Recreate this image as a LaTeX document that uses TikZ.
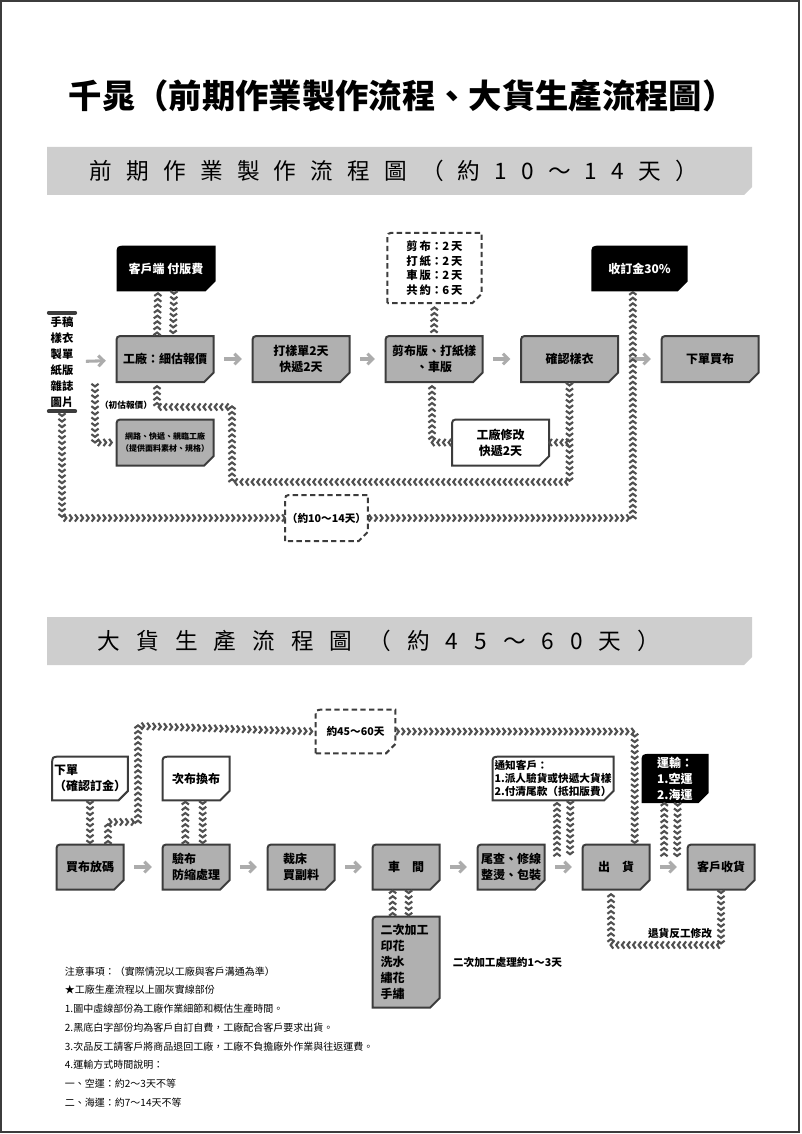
\documentclass[tikz,border=0pt]{standalone}
\usepackage{fontspec}
\setmainfont{Noto Sans CJK TC}
\usetikzlibrary{positioning,calc,decorations.markings,backgrounds,arrows.meta}

\definecolor{boxgray}{RGB}{176,176,176}
\definecolor{edgegray}{RGB}{60,60,60}
\definecolor{chevgray}{RGB}{80,80,80}
\definecolor{bannergray}{RGB}{206,206,206}

\newcommand\gap{\hspace{10.6pt}}
\newcommand\gapb{\hspace{12pt}}

\tikzset{every picture/.style={line width=0.75pt}}
\tikzset{
  card/.style={minimum width=72pt, minimum height=33.75pt, inner sep=1pt, align=center, font=\fontsize{9}{12}\selectfont\bfseries},
  smallcard/.style={card, minimum width=49.5pt, minimum height=33pt},
  garrow/.style={draw=gray!65, line width=2.3pt, -{Straight Barb[length=4pt,width=8pt]}, shorten <=8pt, shorten >=8pt},
  chev/.style={postaction={decorate, decoration={markings, mark=between positions 2pt and 1 step 4.2pt with {\draw[chevgray, line width=1.6pt, line cap=butt] (-1.4pt,2.7pt) -- (0.6pt,0pt) -- (-1.4pt,-2.7pt);}}}},
  note/.style={anchor=west, font=\fontsize{7.5}{9}\selectfont}
}
% card outline: round top-left corner, cut bottom-right corner
\newcommand\cardshape[2]{%
  \draw[#1] (#2.south west) -- ([yshift=6pt]#2.north west) .. controls (#2.north west) .. ([xshift=6pt]#2.north west) -- (#2.north east) -- ([yshift=-7pt]#2.south east) -- ([xshift=-7pt]#2.south east) -- cycle;}

\begin{document}
\begin{tikzpicture}[x=0.75pt,y=0.75pt,yscale=-1,xscale=1]
\useasboundingbox (0,0) rectangle (801,1134);
\draw[edgegray, line width=1pt] (1,1) rectangle (799,1132);

% Title and banners
\node[font=\fontsize{25}{30}\selectfont\bfseries] (title) at (402,96) {千晁（前期作業製作流程、大貨生產流程圖）};
\fill[bannergray] (47,147) -- (752,147) -- (752,187) -- (744,195) -- (47,195) -- cycle;
\node[anchor=west, font=\fontsize{17}{20}\selectfont] (ban1) at (85,171) {前\gap 期\gap 作\gap 業\gap 製\gap 作\gap 流\gap 程\gap 圖\gap （\gap 約\gap 1\gap 0\gap ～\gap 1\gap 4\gap 天\gap ）};
\fill[bannergray] (47,617) -- (752,617) -- (752,657) -- (744,665) -- (47,665) -- cycle;
\node[anchor=west, font=\fontsize{17}{20}\selectfont] (ban2) at (93,641) {大\gapb 貨\gapb 生\gapb 產\gapb 流\gapb 程\gapb 圖\gapb （\gapb 約\gapb 4\gapb 5\gapb ～\gapb 6\gapb 0\gapb 天\gapb ）};

% Sample stage
\node[font=\fontsize{8.5}{12}\selectfont\bfseries, align=center, minimum height=75pt, inner sep=1pt] (src) at (62,362) {手稿\\樣衣\\製單\\紙版\\雜誌\\圖片};
\node[card] (quote) at (165,359) {工廠：細估報價};
\node[card] (sample) at (301,359) {打樣單2天\\快遞2天};
\node[card] (cut) at (434,359) {剪布版、打紙樣\\、車版};
\node[card] (confirm) at (569.5,359) {確認樣衣};
\node[card] (order) at (710,359) {下單買布};
\node[card, text=white, minimum height=32pt] (pay) at (166,268.5) {客戶端 付版費};
\node[card, text=white, minimum height=32pt, minimum width=70pt] (deposit) at (639.5,268.5) {收訂金30\%};
\node[card, minimum width=70pt, minimum height=52pt, align=left, font=\fontsize{8.5}{11}\selectfont\bfseries] (days) at (434.5,268) {剪\,布：2\,天\\打\,紙：2\,天\\車\,版：2\,天\\共\,約：6\,天};
\node[card, font=\fontsize{6}{9}\selectfont\bfseries] (web) at (165,442.5) {網路、快遞、親臨工廠\\（提供面料素材、規格）};
\node[card] (fix) at (500.5,442.5) {工廠修改\\快遞2天};
\node[card, minimum width=57pt, font=\fontsize{8}{10}\selectfont\bfseries] (span1) at (326.5,518) {（約10～14天）};
\node[font=\fontsize{6.5}{8}\selectfont\bfseries] (est) at (126,405) {（初估報價）};
\coordinate (estTop) at (95,383);
\coordinate (lp1) at (232,482);
\coordinate (lp2) at (232,407);
\coordinate (bot) at (62,518);

% Bulk stage
\node[smallcard] (buy) at (90,867) {買布放碼};
\node[smallcard, align=left] (inspect) at (196,867) {驗布\\防縮處理};
\node[smallcard, align=left] (cutting) at (301,867) {裁床\\買副料};
\node[smallcard] (sew) at (406,867) {車\quad 間};
\node[smallcard] (finish) at (511,867) {尾查、修線\\整燙、包裝};
\node[smallcard] (ship) at (616,867) {出\quad 貨};
\node[smallcard] (recv) at (721,867) {客戶收貨};
\node[smallcard, minimum height=32pt, align=left] (order2) at (90,778.5) {下單\\（確認訂金）};
\node[smallcard, minimum height=32pt] (swap) at (196,778.5) {次布換布};
\node[smallcard, minimum height=67.5pt, align=left, text width=38pt] (sec) at (406,962) {二次加工\\印花\\洗水\\繡花\\手繡};
\node[smallcard, minimum width=90pt, minimum height=32pt, align=left, font=\fontsize{8}{10}\selectfont\bfseries] (inform) at (553,778.5) {通知客戶：\\1.派人驗貨或快遞大貨樣\\2.付清尾款（抵扣版費）};
\node[smallcard, minimum width=48pt, minimum height=32pt, text=white, align=left] (trans) at (675,778.5) {運輸：\\1.空運\\2.海運};
\node[smallcard, minimum width=59pt, minimum height=32pt, font=\fontsize{8}{10}\selectfont\bfseries] (span2) at (355.5,731.5) {約45～60天};
\node[font=\fontsize{8}{10}\selectfont\bfseries] (ret) at (680,933) {退貨反工修改};
\node[anchor=west, font=\fontsize{8}{10}\selectfont\bfseries] (secnote) at (448,962) {二次加工處理約1～3天};
\coordinate (b1) at (138,822);
\coordinate (b2) at (138,726);
\coordinate (rt) at (720,945);

% Notes
\node[note] (n0) at (60,972) {注意事項：（實際情況以工廠與客戶溝通為準）};
\node[note] (n1) at (60,990) {★工廠生產流程以上圖灰實線部份};
\node[note] (n2) at (60,1009) {1.圖中虛線部份為工廠作業細節和概估生產時間。};
\node[note] (n3) at (60,1028) {2.黑底白字部份均為客戶自訂自費，工廠配合客戶要求出貨。};
\node[note] (n4) at (60,1047) {3.次品反工請客戶將商品退回工廠，工廠不負擔廠外作業與往返運費。};
\node[note] (n5) at (60,1065) {4.運輸方式時間說明：};
\node[note] (n6) at (60,1084) {一、空運：約2～3天不等};
\node[note] (n7) at (60,1103) {二、海運：約7～14天不等};

% Card outlines behind the texts
\begin{scope}[on background layer]
\foreach \n in {quote,sample,cut,confirm,order,web,buy,inspect,cutting,sew,finish,ship,recv,sec}
  \cardshape{fill=boxgray, draw=edgegray, line width=1.5pt}{\n};
\foreach \n in {fix,order2,swap,inform}
  \cardshape{fill=white, draw=edgegray, line width=1.5pt}{\n};
\foreach \n in {pay,deposit,trans}
  \cardshape{fill=black, draw=black, line width=1.5pt}{\n};
\foreach \n in {days,span1,span2}
  \cardshape{fill=white, draw=edgegray, line width=1.5pt, dash pattern=on 4pt off 2.5pt}{\n};
\end{scope}
\draw[edgegray, line width=3pt, line cap=round] ([yshift=1pt]src.north west) -- ([yshift=1pt]src.north east);
\draw[edgegray, line width=3pt, line cap=round] ([yshift=-1pt]src.south west) -- ([yshift=-1pt]src.south east);

% Main flow arrows
\draw[garrow] (src) -- (quote);
\draw[garrow] (quote) -- (sample);
\draw[garrow] (sample) -- (cut);
\draw[garrow] (cut) -- (confirm);
\draw[garrow] (confirm) -- (order);
\draw[garrow] (buy) -- (inspect);
\draw[garrow] (inspect) -- (cutting);
\draw[garrow] (cutting) -- (sew);
\draw[garrow] (sew) -- (finish);
\draw[garrow] (finish) -- (ship);
\draw[garrow] (ship) -- (recv);

% Chevron links, sample stage
\path[chev] ([xshift=-6pt]quote.north) -- ([xshift=-6pt]pay.south);
\path[chev] ([xshift=6pt]pay.south) -- ([xshift=6pt]quote.north);
\path[chev] ([yshift=-2pt]cut.north) -- (days.south);
\path[chev] (estTop) |- (web.west);
\path[chev] (confirm.south) -- (confirm.south |- lp1) -- (lp1) -- (lp2) -- ([xshift=-6pt]quote.south |- lp2) -- ([xshift=-6pt]quote.south);
\path[chev] (confirm.south |- fix.east) -- (fix.east);
\path[chev] (fix.west) -- ([xshift=-1.5pt]cut.south |- fix.west) -- ([xshift=-1.5pt]cut.south);
\path[chev] (src.south) -- (bot) -- (span1.west);
\path[chev] (span1.east) -| ([xshift=-5pt]deposit.south);

% Chevron links, bulk stage
\path[chev] (order2.south) -- (order2.south |- buy.north);
\path[chev] ([xshift=13.5pt]buy.north) |- (b1) -- (b2) -- (span2.west);
\path[chev] (span2.east) -| ([xshift=14pt]ship.north);
\path[chev] ([xshift=-8pt]inspect.north) -- ([xshift=-8pt]swap.south);
\path[chev] ([xshift=5pt]swap.south) -- ([xshift=5pt]inspect.north);
\path[chev] ([xshift=-10pt]sec.north) -- ([xshift=-10pt]sew.south);
\path[chev] ([xshift=2pt]sew.south) -- ([xshift=2pt]sec.north);
\path[chev] (557,857) -- ([xshift=3pt]inform.south);
\path[chev] ([xshift=13pt]inform.south) -- (570,857);
\path[chev] (664,857) -- ([xshift=-8pt]trans.south);
\path[chev] ([xshift=2pt]trans.south) -- (677,857);
\path[chev] (recv.south) -- (recv.south |- rt) -- ([xshift=-3.75pt]ship.south |- rt) -- ([xshift=-3.75pt]ship.south);

\end{tikzpicture}
\end{document}
